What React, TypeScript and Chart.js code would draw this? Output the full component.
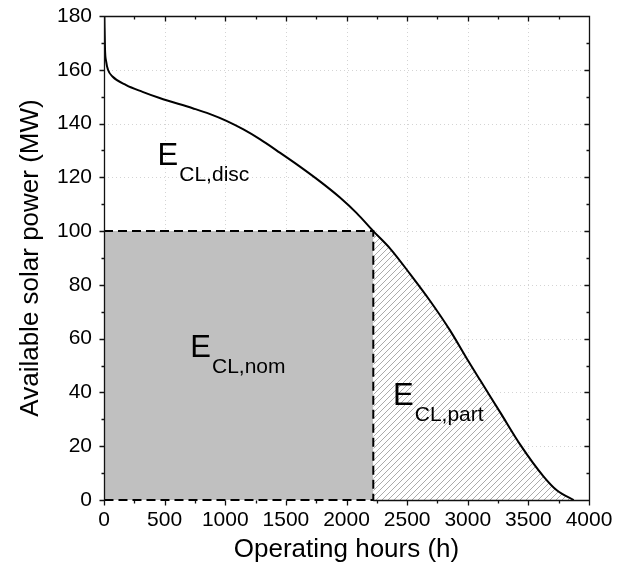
import { useEffect, useRef } from "react";
import { Chart, registerables } from "chart.js";

Chart.register(...registerables);

// Duration curve of available solar power
const hours = [3, 8, 18, 33, 70, 183, 318, 459, 731, 870, 1010, 1150, 1285, 1450, 1616, 1781, 1946, 2084, 2221, 2360, 2525, 2690, 2855, 3007, 3103, 3269, 3434, 3626, 3737, 3874];
const power = [180, 168, 163, 160, 157.5, 154.3, 151.8, 149.5, 145.7, 143.6, 141.0, 137.8, 134.2, 129.2, 124.0, 118.5, 112.5, 106.7, 100, 93.5, 84.0, 74.0, 63.0, 51.5, 44.5, 32.5, 20.5, 8.7, 3.5, 0];

// Nominal power block
const nominalPower = 100;
const nominalHours = 2221;

// Axes
const xMin = 0;
const xMax = 4000;
const xStep = 500;
const yMin = 0;
const yMax = 180;
const yStep = 20;

// Region labels: [main, subscript, anchor hours, anchor power]
const regionLabels: [string, string, number, number][] = [
  ["E", "CL,disc", 442, 124.5],
  ["E", "CL,nom", 712, 53.2],
  ["E", "CL,part", 2384, 35.3],
];

const FONT = '"Liberation Sans", Arial, Helvetica, sans-serif';

function makeHatch(): CanvasPattern | string {
  const s = 6;
  const c = document.createElement("canvas");
  c.width = s;
  c.height = s;
  const g = c.getContext("2d");
  if (!g) return "#ddd";
  g.fillStyle = "#ffffff";
  g.fillRect(0, 0, s, s);
  g.strokeStyle = "#ababab";
  g.lineWidth = 1;
  g.beginPath();
  g.moveTo(-1, s + 1);
  g.lineTo(s + 1, -1);
  g.moveTo(-1, 1);
  g.lineTo(1, -1);
  g.moveTo(s - 1, s + 1);
  g.lineTo(s + 1, s - 1);
  g.stroke();
  const p = g.createPattern(c, "repeat");
  return p || "#ddd";
}

const framePlugin = {
  id: "frameAndGrid",
  beforeDatasetsDraw(chart: any) {
    const { ctx, chartArea: a, scales } = chart;
    const xs = scales.x;
    const ys = scales.y;
    ctx.save();
    ctx.strokeStyle = "#d4d4d4";
    ctx.lineWidth = 1;
    ctx.setLineDash([1, 3]);
    ctx.beginPath();
    for (let v = xMin + xStep; v < xMax; v += xStep) {
      const px = Math.round(xs.getPixelForValue(v)) + 0.5;
      ctx.moveTo(px, a.top);
      ctx.lineTo(px, a.bottom);
    }
    for (let v = yMin + yStep; v < yMax; v += yStep) {
      const py = Math.round(ys.getPixelForValue(v)) + 0.5;
      ctx.moveTo(a.left, py);
      ctx.lineTo(a.right, py);
    }
    ctx.stroke();
    ctx.restore();
  },
  afterDatasetsDraw(chart: any) {
    const { ctx, chartArea: a, scales } = chart;
    const xs = scales.x;
    const ys = scales.y;
    const L = Math.round(a.left) + 0.5;
    const R = Math.round(a.right) + 0.5;
    const T = Math.round(a.top) + 0.5;
    const B = Math.round(a.bottom) + 0.5;
    const nomX = xs.getPixelForValue(nominalHours);
    ctx.save();
    ctx.strokeStyle = "#111";
    ctx.lineWidth = 1.3;
    ctx.setLineDash([]);
    ctx.beginPath();
    ctx.moveTo(L, B);
    ctx.lineTo(L, T);
    ctx.lineTo(R, T);
    ctx.lineTo(R, B);
    ctx.lineTo(nomX, B);
    for (let v = xMin; v <= xMax; v += xStep / 2) {
      const px = Math.round(xs.getPixelForValue(v)) + 0.5;
      const major = v % xStep === 0;
      ctx.moveTo(px, B);
      ctx.lineTo(px, B + (major ? 5 : 3));
      ctx.moveTo(px, T);
      ctx.lineTo(px, T + (major ? 5 : 3));
    }
    for (let v = yMin; v <= yMax; v += yStep / 2) {
      const py = Math.round(ys.getPixelForValue(v)) + 0.5;
      const major = v % yStep === 0;
      ctx.moveTo(L, py);
      ctx.lineTo(L - (major ? 5 : 3), py);
      ctx.moveTo(R, py);
      ctx.lineTo(R - (major ? 5 : 3), py);
    }
    ctx.stroke();

    ctx.fillStyle = "#000";
    ctx.textBaseline = "alphabetic";
    ctx.textAlign = "left";
    for (const [main, sub, h, p] of regionLabels) {
      const x = xs.getPixelForValue(h);
      const y = ys.getPixelForValue(p);
      ctx.font = `31px ${FONT}`;
      ctx.fillText(main, x, y);
      const w = ctx.measureText(main).width;
      ctx.font = `21px ${FONT}`;
      ctx.fillText(sub, x + w + 1, y + 16);
    }
    ctx.restore();
  },
};

export default function App() {
  const ref = useRef<HTMLCanvasElement | null>(null);
  useEffect(() => {
    const canvas = ref.current;
    if (!canvas) return;
    const curve = hours.map((h, i) => ({ x: h, y: power[i] }));
    const partial = curve.filter((p) => p.x >= nominalHours);
    if (partial.length === 0 || partial[0].x > nominalHours) {
      partial.unshift({ x: nominalHours, y: nominalPower });
    }
    const chart = new Chart(canvas, {
      type: "line",
      data: {
        datasets: [
          {
            data: curve,
            borderColor: "#000",
            borderWidth: 2,
            pointRadius: 0,
            fill: false,
            cubicInterpolationMode: "monotone",
            order: 0,
          },
          {
            data: [
              { x: xMin, y: nominalPower },
              { x: nominalHours, y: nominalPower },
              { x: nominalHours, y: yMin },
              { x: xMin, y: yMin },
            ],
            borderColor: "#000",
            borderWidth: 2,
            borderDash: [9, 5],
            pointRadius: 0,
            fill: false,
            clip: false,
            order: 1,
          },
          {
            data: [
              { x: xMin, y: nominalPower },
              { x: nominalHours, y: nominalPower },
            ],
            borderWidth: 0,
            pointRadius: 0,
            backgroundColor: "#c0c0c0",
            fill: "origin",
            order: 2,
          },
          {
            data: partial,
            borderWidth: 0,
            pointRadius: 0,
            backgroundColor: makeHatch() as any,
            fill: "origin",
            cubicInterpolationMode: "monotone",
            order: 3,
          },
        ],
      },
      options: {
        animation: false,
        responsive: false,
        devicePixelRatio: 1,
        layout: { padding: { top: 16, right: 50, left: 0, bottom: 0 } },
        plugins: { legend: { display: false }, tooltip: { enabled: false } },
        scales: {
          x: {
            type: "linear",
            min: xMin,
            max: xMax,
            afterFit: (s: any) => {
              s.height = 79;
              s.paddingLeft = 0;
              s.paddingRight = 0;
            },
            ticks: {
              stepSize: xStep,
              color: "#000",
              font: { family: FONT, size: 21 },
              padding: 8,
              maxRotation: 0,
              callback: (v: any) => String(v),
            },
            grid: { display: false, drawTicks: false },
            border: { display: false },
            title: {
              display: true,
              text: "Operating hours (h)",
              color: "#000",
              font: { family: FONT, size: 26 },
              padding: { top: 0, bottom: 14 },
            },
          },
          y: {
            type: "linear",
            min: yMin,
            max: yMax,
            afterFit: (s: any) => {
              s.width = 104;
              s.paddingTop = 0;
              s.paddingBottom = 0;
            },
            ticks: {
              stepSize: yStep,
              color: "#000",
              font: { family: FONT, size: 21 },
              padding: 12,
              callback: (v: any) => String(v),
            },
            grid: { display: false, drawTicks: false },
            border: { display: false },
            title: {
              display: true,
              text: "Available solar power (MW)",
              color: "#000",
              font: { family: FONT, size: 26 },
              padding: { top: 15, bottom: 0 },
            },
          },
        },
      },
      plugins: [framePlugin],
    });
    return () => chart.destroy();
  }, []);
  return (
    <div style={{ position: "absolute", left: 0, top: 0, width: 639, height: 579, background: "#fff" }}>
      <canvas ref={ref} width={639} height={579} style={{ display: "block" }} />
    </div>
  );
}
